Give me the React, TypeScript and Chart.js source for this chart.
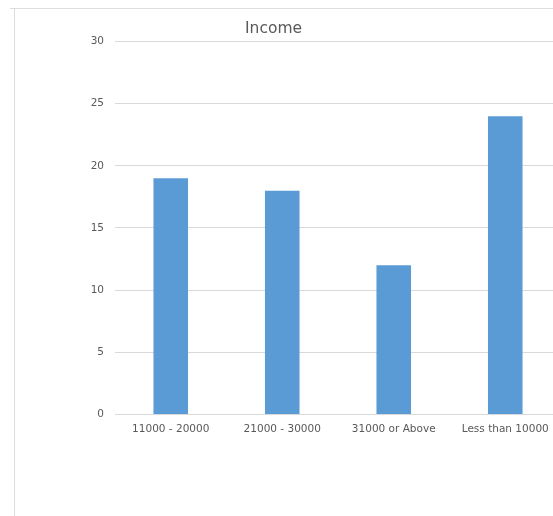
import React, { useEffect, useRef } from "react";
import { Chart, registerables } from "chart.js";

Chart.register(...registerables);

const TITLE = "Income";
const categories = ["11000 - 20000", "21000 - 30000", "31000 or Above", "Less than 10000"];
const counts = [19, 18, 12, 24];
const yMin = 0;
const yMax = 30;
const yStep = 5;

const TEXT = "#595959";
const GRID = "#d9d9d9";
const BAR = "#5B9BD5";
const FONT = "'DejaVu Sans', sans-serif";

export default function App() {
  const ref = useRef<HTMLCanvasElement | null>(null);

  useEffect(() => {
    if (!ref.current) return;
    const chart = new Chart(ref.current, {
      type: "bar",
      data: {
        labels: categories,
        datasets: [
          {
            label: TITLE,
            data: counts,
            backgroundColor: BAR,
            borderWidth: 0,
            categoryPercentage: 1,
            barPercentage: 0.31,
          },
        ],
      },
      options: {
        responsive: false,
        animation: false,
        devicePixelRatio: 1,
        layout: { padding: { left: 0, right: 0, top: 0, bottom: 71 } },
        plugins: {
          legend: { display: false },
          tooltip: { enabled: false },
          title: {
            display: true,
            text: TITLE,
            color: TEXT,
            font: { family: FONT, size: 15.5, weight: "normal" },
            padding: { top: 20, bottom: 3 },
          },
        },
        scales: {
          x: {
            grid: { display: false, drawTicks: false },
            border: { display: false },
            ticks: {
              color: TEXT,
              font: { family: FONT, size: 10.5 },
              padding: 9,
              maxRotation: 0,
              autoSkip: false,
            },
          },
          y: {
            min: yMin,
            max: yMax,
            grid: { color: GRID, lineWidth: 1, drawTicks: false },
            border: { display: false },
            ticks: {
              stepSize: yStep,
              color: TEXT,
              font: { family: FONT, size: 10.5 },
              padding: 11,
            },
            afterFit: (scale: any) => {
              scale.width = 129;
            },
          },
        },
      },
    });
    return () => chart.destroy();
  }, []);

  return (
    <div
      style={{
        position: "fixed",
        left: 0,
        top: 0,
        width: 553,
        height: 516,
        overflow: "hidden",
        background: "#ffffff",
      }}
    >
      <div
        style={{
          position: "absolute",
          left: 10,
          right: 0,
          top: 7.5,
          height: 1.5,
          background: "#dedede",
        }}
      />
      <div
        style={{
          position: "absolute",
          left: 13.5,
          top: 9,
          bottom: 0,
          width: 1.5,
          background: "#dedede",
        }}
      />
      <canvas
        ref={ref}
        width={575}
        height={516}
        style={{ position: "absolute", left: -14, top: 0, width: 575, height: 516 }}
      />
    </div>
  );
}
